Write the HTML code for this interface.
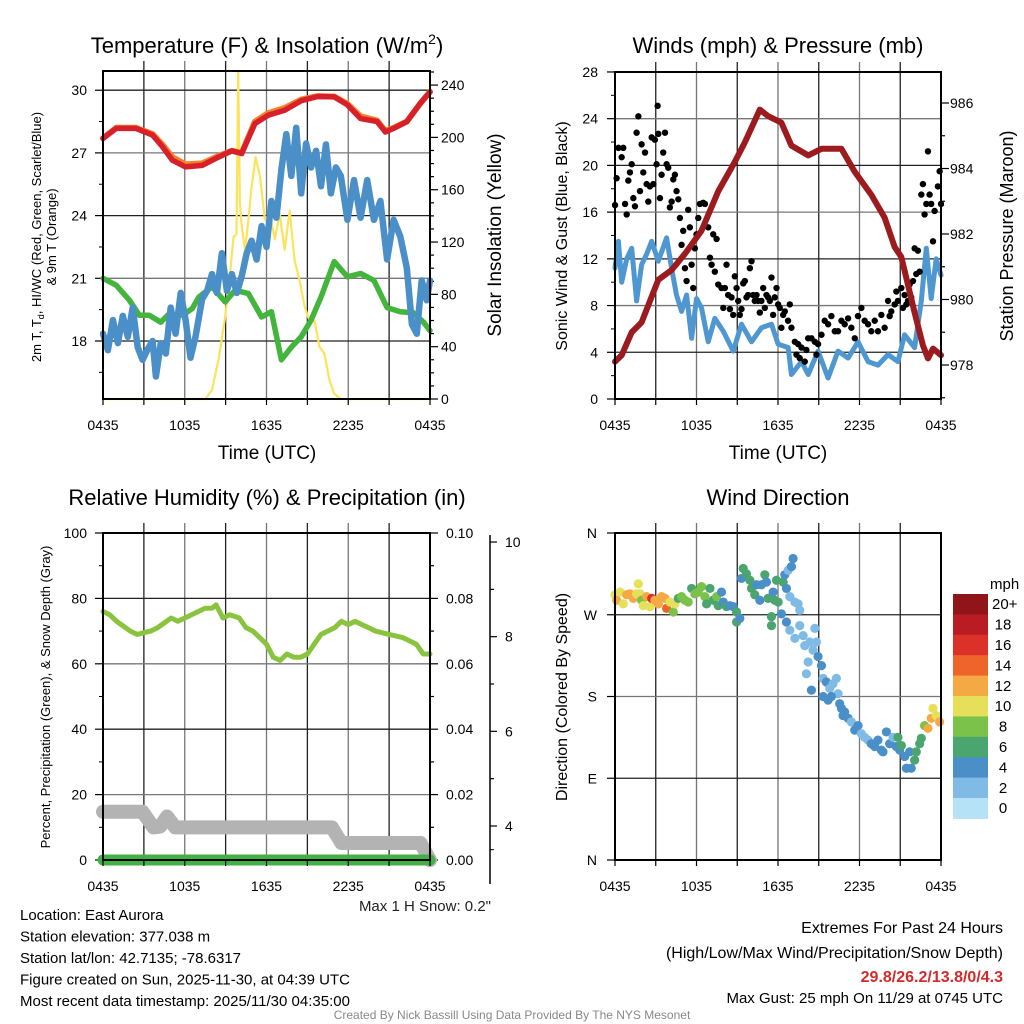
<!DOCTYPE html>
<html><head><meta charset="utf-8"><title>Station Meteogram</title>
<style>
html,body{margin:0;padding:0;background:#fff;}
svg{display:block;font-family:"Liberation Sans",Arial,sans-serif;}
</style></head>
<body>
<svg id="chart" width="1024" height="1024" viewBox="0 0 1024 1024" xmlns="http://www.w3.org/2000/svg">
<rect x="0" y="0" width="1024" height="1024" fill="#fff"/>
</svg>
<script>
// ---------- DATA ----------
const timeTickLabels = ["0435","1035","1635","2235","0435"];
const timeTickHours = [0,6,12,18,24];
const tempTicks = [18,21,24,27,30];
const solarTicks = [0,40,80,120,160,200,240];
const windTicks = [0,4,8,12,16,20,24,28];
const presTicks = [978,980,982,984,986];
const rhTicks = [0,20,40,60,80,100];
const precipTicks = ["0.00","0.02","0.04","0.06","0.08","0.10"];
const precipTickVals = [0,0.02,0.04,0.06,0.08,0.10];
const snowTicks = [4,6,8,10];
const dirLabels = ["N","E","S","W","N"];
const dirTicks = [0,90,180,270,360];

const redHours = [0,0.97,2.42,3.64,4.36,5.09,6.06,7.27,8.48,9.45,10.18,11.15,12.12,13.33,14.55,15.76,16.97,17.94,18.91,20.12,20.73,21.33,22.3,23.27,24];
const redTemp = [27.7,28.17,28.17,27.85,27.3,26.65,26.33,26.4,26.8,27.1,26.97,28.4,28.8,29.04,29.5,29.7,29.68,29.3,28.64,28.5,28.0,28.17,28.5,29.36,29.92];
const orangeTemp = [27.7,28.2,28.2,27.9,27.4,26.8,26.45,26.5,26.85,27.1,27.0,28.5,28.9,29.15,29.55,29.72,29.7,29.35,28.75,28.55,28.05,28.2,28.5,29.36,29.92];

const greenHours = [0,0.97,1.94,2.67,3.39,4.24,4.85,5.82,6.55,7.03,8.0,8.97,9.7,10.67,11.64,12.36,13.09,13.82,14.55,15.27,16.0,16.97,17.94,18.91,19.88,20.85,21.82,22.79,23.52,24];
const greenTemp = [21.0,20.67,19.95,19.23,19.23,18.9,19.3,19.23,19.55,20.1,20.6,19.87,20.43,20.27,19.15,19.4,17.1,17.7,18.2,19.0,20.1,21.8,21.07,21.23,20.9,19.6,19.4,19.35,18.9,18.5];

const blueHours = [0,0.36,0.73,1.09,1.45,1.82,2.18,2.55,2.91,3.27,3.64,3.88,4.24,4.61,4.97,5.33,5.7,6.06,6.42,6.79,7.27,7.64,8.0,8.36,8.73,9.09,9.45,9.82,10.18,10.55,10.91,11.27,11.64,12.0,12.36,12.73,13.09,13.45,13.82,14.18,14.55,14.91,15.27,15.64,16.0,16.36,16.73,17.09,17.45,17.94,18.42,18.91,19.39,19.88,20.36,20.85,21.33,21.82,22.3,22.67,23.03,23.39,23.76,24];
const blueTemp = [18.35,17.56,19,17.9,19.2,18.2,19.6,17.7,17.1,17.6,18.0,16.3,17.9,17.4,19.6,18.35,20.3,19.0,17.2,18.2,20,20.4,21.2,20.3,22.2,20.4,21.2,20.3,21.1,22.2,22.8,21.9,23.5,22.5,24.7,23.9,26.2,27.9,25.9,28.2,25.06,27.45,26.3,27.1,25.4,27.4,25.06,26.3,25.9,23.8,25.7,23.9,25.7,23.8,24.7,21.9,23.8,23,21.5,18.8,18.35,20.9,19.95,20.9];

const solarHours = [0,7.52,8.0,8.48,8.97,9.33,9.58,9.8,9.92,10.05,10.18,10.42,10.67,10.91,11.2,11.52,11.88,12.24,12.61,12.97,13.33,13.7,14.06,14.42,14.79,15.15,15.52,15.88,16.24,16.61,16.97,17.45,24];
const solarVals = [0,0,7,30,63,96,124,126,251,150,132,114,137,162,185,170,137,142,122,142,114,144,106,91,71,60,60,40,35,15,4,0,0];

const presHours = [0,0.49,1.23,1.96,3.19,4.17,5.15,6.37,7.6,8.82,9.56,10.66,11.27,12.25,12.99,14.22,15.2,16.18,16.67,17.65,18.87,19.85,20.59,21.08,22.06,22.67,23.04,23.41,24];
const presVals = [978.1,978.3,979.0,979.3,980.6,980.9,981.4,982.1,983.3,984.2,984.8,985.8,985.6,985.4,984.7,984.4,984.6,984.6,984.6,983.9,983.2,982.5,981.6,981.3,979.6,978.6,978.2,978.5,978.3];

const windHours = [0,0.25,0.49,0.86,1.23,1.59,1.96,2.33,2.7,3.19,3.8,4.17,4.53,4.9,5.27,5.64,6.0,6.37,6.86,7.35,7.97,8.7,9.31,10.05,10.78,11.52,12.01,12.75,12.99,13.73,14.22,14.95,15.69,16.42,17.16,17.89,18.63,19.36,20.1,20.83,21.32,22.06,22.55,22.92,23.28,23.65,24];
const windVals = [11.2,13.5,10,12,12.9,8.4,11.5,12.4,13.5,11.8,13.8,11.2,8.9,7.5,8.9,5.2,8.6,7.8,4.9,6.9,5.8,4.1,6.4,4.9,6.1,6.4,4.7,4.4,2.1,3.2,2.1,4.1,1.8,4.1,3.5,4.9,3.2,2.9,3.8,3.2,5.5,4.4,8.4,12.9,8.6,12,10.6];

const gustHours = [0,0.12,0.25,0.49,0.61,0.74,0.86,0.98,1.10,1.23,1.35,1.47,1.59,1.72,1.84,1.96,2.08,2.21,2.33,2.45,2.57,2.70,2.82,2.94,3.06,3.19,3.14,3.31,3.43,3.55,3.68,3.80,3.92,4.04,4.17,4.29,4.41,4.53,4.66,4.78,4.90,5.02,5.15,5.27,5.39,5.51,5.64,5.76,5.88,6.00,6.13,6.25,6.49,6.62,6.86,6.99,7.11,7.23,7.35,7.48,7.60,7.84,7.97,8.09,8.21,8.33,8.46,8.58,8.70,8.82,8.95,9.07,9.19,9.31,9.44,9.56,9.68,9.80,9.93,10.05,10.17,10.29,10.42,10.54,10.66,10.78,10.91,11.03,11.15,11.27,11.40,11.52,11.64,11.76,11.89,12.01,12.13,12.25,12.38,12.50,12.74,12.87,12.99,13.24,13.36,13.48,13.60,13.73,13.97,14.09,14.22,14.46,14.71,14.83,14.95,15.20,15.44,15.69,15.93,16.18,16.42,16.67,16.91,17.16,17.40,17.65,17.89,18.14,18.38,18.63,18.87,19.12,19.36,19.61,19.85,20.10,20.22,20.34,20.59,20.71,20.83,21.08,21.20,21.32,21.45,21.57,21.69,21.81,21.94,22.06,22.18,22.30,22.43,22.55,22.67,22.79,22.92,23.04,23.16,23.28,23.41,23.53,23.77,23.90,24.0];
const gustVals = [16.6,18.9,21.5,20.7,21.5,16.7,15.8,18.7,19.4,20.1,17.2,16.5,22.8,24.2,17.8,21.8,19.4,21.1,18.4,16.9,18.2,22.4,18.4,22.2,20.1,22.7,25.1,17.2,19.2,21.1,22.8,20.1,19.8,16.4,16.9,18.8,19.2,17.8,17.1,15.5,13.2,14.4,11.2,10.1,16.2,14.7,11.5,9.5,12.9,14.1,15.5,16.7,16.8,16.7,14.7,12.1,11.5,14.1,10.9,13.7,9.8,9.5,7.8,9.5,11.5,8.9,7.7,8.7,7.2,10.5,9.5,8.4,7.2,7.7,9.9,10.1,8.7,8.9,11.2,11.8,8.9,8.4,8.9,8.4,7.4,8.4,9.5,7.8,8.9,8.7,8.4,10.4,7.2,8.7,9.5,8.1,7.8,6.1,7.2,7.5,6.7,8.1,6.1,4.9,3.8,4.7,3.5,4.4,3.2,4.2,5.2,5.2,4.9,3.8,4.7,5.5,6.7,6.4,7.1,5.8,5.8,6.7,6.4,6.9,6.1,5.2,7.1,7.8,6.7,6.4,5.8,6.7,5.8,7.2,6.1,8.4,7.1,7.5,8.1,9.2,8.4,9.5,7.8,8.9,8.1,8.4,9.8,8.7,10.1,12.9,10.7,12.7,10.9,17.5,18.4,15.8,16.7,21.2,17.5,16.7,13.5,16.1,18.2,19.5,16.7];

const rhHours = [0,0.5,1,2,2.5,3,3.5,4,5,5.5,6,6.5,7,7.5,8,8.3,8.8,9.3,10,10.5,11,11.5,12,12.5,13,13.5,14,14.5,15,15.5,16,17,17.5,18,18.5,19,19.5,20,21,22,22.5,23,23.5,24];
const rhVals = [76,75,73,70,69,69.5,70,71,74,73,74,75,76,77,77,78,74,75,74,71,70,68,66,62,61,63,62,62,63,66,69,71,73,72,73,72,71,70,69,68,67,66,63,63];

const precipHours = [0,24];
const precipVals = [0,0];

const snowHours = [0,2.9,3.7,4.2,4.7,5.3,16.8,17.5,23.3,24];
const snowVals = [4.3,4.3,3.97,3.99,4.2,3.97,3.97,3.64,3.64,3.28];

const dirHours = [0,0.12,0.37,0.61,0.86,1.1,1.35,1.59,1.72,1.84,1.96,2.08,2.33,2.57,2.7,2.94,3.19,3.43,3.68,3.8,4.04,4.29,4.41,4.66,4.9,5.15,5.39,5.64,5.88,6.13,6.37,6.62,6.74,6.99,7.23,7.48,7.6,7.84,7.97,8.21,8.46,8.7,8.95,8.95,9.19,9.31,9.44,9.68,9.93,10.05,10.29,10.42,10.66,10.78,11.03,11.15,11.27,11.52,11.52,11.64,11.76,11.89,12.01,12.25,12.38,12.5,12.62,12.75,12.87,12.99,13.11,13.24,13.48,13.6,12.62,12.87,13.24,13.6,13.85,13.97,14.34,14.58,14.71,14.83,14.95,15.2,14.09,14.22,14.46,15.32,15.56,15.81,16.05,16.3,16.42,15.32,15.69,15.93,16.54,16.67,16.79,16.91,17.16,17.4,17.65,17.89,18.14,18.38,18.63,18.87,19.12,19.36,19.61,19.73,19.98,20.22,20.47,20.71,20.83,20.96,21.08,21.32,21.45,21.69,21.81,22.06,22.18,22.43,22.55,22.79,23.04,23.28,23.41,23.65,23.9];
const dirVals = [292,286,295,282,292,293,288,293,304,293,286,280,290,279,288,286,282,290,288,277,284,273,282,288,290,286,284,299,293,295,301,290,282,299,286,290,280,295,284,279,280,279,273,262,266,310,321,315,308,299,292,303,286,303,314,306,288,268,258,295,286,308,284,271,306,314,299,319,290,323,332,284,282,275,262,253,244,258,247,236,240,231,255,240,224,214,205,218,187,200,196,189,194,200,183,180,176,180,172,167,159,163,156,152,143,148,139,135,132,128,125,132,121,119,141,128,135,125,135,121,126,114,101,119,101,110,119,128,134,148,145,156,167,159,152,159];
const dirSpeed = [11,12,11,11,12,13,12,11,10,10,9,11,12,11,16,13,12,13,12,15,11,8,11,7,8,9,8,7,8,9,8,9,7,7,6,8,6,5,5,6,5,5,6,6,5,5,6,6,6,6,7,5,5,5,6,5,6,6,6,4,6,6,6,4,6,4,4,3,3,4,4,3,3,3,4,3,3,3,3,3,3,3,3,3,4,4,3,3,4,3,4,3,3,3,3,4,4,4,4,4,4,4,4,3,4,4,3,3,3,4,4,4,4,4,4,4,3,4,6,4,6,4,4,4,4,6,6,6,7,9,12,12,10,11,13,11];

const colorbarLabels = ["0","2","4","6","8","10","12","14","16","18","20+"];
const colorbarColors = ["#b5e2f7","#80bbe6","#4a8fc7","#4aa56e","#7bc24a","#e6df5a","#f5a945","#ef6428","#dc3128","#ba1c24","#8f1519"];

// ---------- HELPERS ----------
const svg = document.getElementById('chart');
const NS = 'http://www.w3.org/2000/svg';
function mk(tag, attrs, parent){
  const el = document.createElementNS(NS, tag);
  for (const k in attrs) el.setAttribute(k, attrs[k]);
  (parent||svg).appendChild(el);
  return el;
}
function txt(x,y,s,size,anchor,extra){
  const el = mk('text', Object.assign({x:x,y:y,'font-size':size,'text-anchor':anchor||'middle',fill:'#000'}, extra||{}));
  el.textContent = s;
  return el;
}
function poly(xs, ys, fx, fy, stroke, w){
  let d='';
  const n = Math.min(xs.length, ys.length);
  for (let i=0;i<n;i++) d += (i?'L':'M') + fx(xs[i]).toFixed(1) + ',' + fy(ys[i]).toFixed(1);
  return mk('path',{d:d,fill:'none',stroke:stroke,'stroke-width':w,'stroke-linejoin':'round','stroke-linecap':'round'});
}
function speedColor(s){ if (s===undefined || isNaN(s)) s = 6; let i=Math.floor(s/2); if(i>10)i=10; if(i<0)i=0; return colorbarColors[i]; }

function grid(x0,x1,y0,y1,hx,ys,nm){
  const g = mk('g',{});
  
  
  for (let h=3; h<24; h+=3){
    const x = hx(h);
    mk('line',{x1:x,x2:x,y1:y0-10,y2:y1,stroke:(h%6===0)?'#777':'#222','stroke-width':1.3},g);
  }
  ys.forEach((y,i)=>{ mk('line',{x1:x0,x2:x1,y1:y,y2:y,stroke:(i%2)?'#777':'#222','stroke-width':1.3},g); });
  return g;
}
function frame(x0,x1,y0,y1,nm){
  const r = mk('rect',{x:x0,y:y0,width:x1-x0,height:y1-y0,fill:'none',stroke:'#000','stroke-width':2});
  
  
  return r;
}
function timeAxis(hx, yBase, nm){
  const g = mk('g',{});
  
  
  for (let h=0; h<=24; h+=3) mk('line',{x1:hx(h),x2:hx(h),y1:yBase,y2:yBase+6,stroke:'#000','stroke-width':1.2},g);
  timeTickHours.forEach((h,i)=>{ const t = txt(hx(h), yBase+31, timeTickLabels[i], 14, 'middle'); g.appendChild(t); });
  return g;
}

// ============ PANEL 1 ============
const p1x = h => 103 + h*327/24;
const p1t = t => 341 - (t-18)*20.9;
const p1s = s => 399 - s*1.308;
grid(103,430,71,399,p1x,tempTicks.map(p1t),'temp-grid');
tempTicks.forEach(t=>{
  mk('line',{x1:95,x2:103,y1:p1t(t),y2:p1t(t),stroke:'#000','stroke-width':1.2});
  const l = txt(87,p1t(t)+5,String(t),14,'end');
  
  
});
for (let t=16.5;t<31;t+=3) mk('line',{x1:99,x2:103,y1:p1t(t),y2:p1t(t),stroke:'#000','stroke-width':1});
for (let s=0;s<=260;s+=10) if (p1s(s)>=71) mk('line',{x1:430,x2:s%40===0?438:434,y1:p1s(s),y2:p1s(s),stroke:'#000','stroke-width':1.2});
solarTicks.forEach(s=>{
  const l = txt(441,p1s(s)+5,String(s),14,'start');
  
  
});
{
  const cp = mk('clipPath',{id:'c1'}); mk('rect',{x:100,y:60,width:333,height:342},cp);
  const g = mk('g',{'clip-path':'url(#c1)'});
  
  
  let l;
  l = poly(solarHours, solarVals, p1x, p1s, '#fde35a', 2.2); g.appendChild(l);
   
  l = poly(greenHours, greenTemp, p1x, p1t, '#43b43c', 5.5); g.appendChild(l);
   
  l = poly(blueHours, blueTemp, p1x, p1t, '#4a8fc8', 6.5); g.appendChild(l);
   
  l = poly(redHours, orangeTemp, p1x, p1t, '#f7812b', 6); g.appendChild(l);
   
  l = poly(redHours, redTemp, p1x, p1t, '#d8202a', 5.5); g.appendChild(l);
   
}
frame(103,430,71,399,'temp-plot-frame');
timeAxis(p1x,399,'temp-x-axis');
{
  let t = txt(267,53,'',22,'middle');
  t.innerHTML = 'Temperature (F) &amp; Insolation (W/m<tspan dy="-9" font-size="14">2</tspan><tspan dy="9">)</tspan>';
   
  t = txt(267,459,'Time (UTC)',19,'middle');
   
  t = txt(0,0,'',13,'middle',{transform:'translate(41,237) rotate(-90)'});
  t.innerHTML = '2m T, T<tspan dy="3" font-size="9">d</tspan><tspan dy="-3">, HI/WC (Red, Green, Scarlet/Blue)</tspan>';
   
  t = txt(0,0,'& 9m T (Orange)',13,'middle',{transform:'translate(56,237) rotate(-90)'});
   
  t = txt(0,0,'Solar Insolation (Yellow)',19,'middle',{transform:'translate(501,235) rotate(-90)'});
   
}

// ============ PANEL 2 ============
const p2x = h => 615 + h*326/24;
const p2w = m => 399 - m*11.68;
const p2p = p => 365 - (p-978)*32.75;
grid(615,941,72,399,p2x,windTicks.slice(1,7).map(p2w),'wind-grid');
windTicks.forEach(m=>{
  mk('line',{x1:607,x2:615,y1:p2w(m),y2:p2w(m),stroke:'#000','stroke-width':1.2});
  const l = txt(598,p2w(m)+5,String(m),14,'end');
   
});
for (let m=2;m<28;m+=4) mk('line',{x1:611,x2:615,y1:p2w(m),y2:p2w(m),stroke:'#000','stroke-width':1});
for (let p=977;p<=987;p+=1){ const y=p2p(p); if(y>72&&y<399) mk('line',{x1:941,x2:p%2===0?949:945,y1:y,y2:y,stroke:'#000','stroke-width':1.2}); }
presTicks.forEach(p=>{
  const l = txt(950,p2p(p)+5,String(p),14,'start');
   
});
{
  const cp = mk('clipPath',{id:'c2'}); mk('rect',{x:612,y:70,width:332,height:332},cp);
  const g = mk('g',{'clip-path':'url(#c2)'});
  
  
  let l = poly(windHours, windVals, p2x, p2w, '#4f97d1', 5); g.appendChild(l);
   
  for (let i=0;i<gustHours.length;i++){
    const c = mk('circle',{cx:p2x(gustHours[i]),cy:p2w(gustVals[i]),r:3.2,fill:'#000'},g);
    
    
  }
  l = poly(presHours, presVals, p2x, p2p, '#9b1b1e', 6); g.appendChild(l);
   
}
frame(615,941,72,399,'wind-plot-frame');
timeAxis(p2x,399,'wind-x-axis');
{
  let t = txt(778,53,'Winds (mph) & Pressure (mb)',22,'middle');
   
  t = txt(778,459,'Time (UTC)',19,'middle');
   
  t = txt(0,0,'Sonic Wind & Gust (Blue, Black)',16,'middle',{transform:'translate(567,236) rotate(-90)'});
   
  t = txt(0,0,'Station Pressure (Maroon)',18,'middle',{transform:'translate(1013,236) rotate(-90)'});
   
}

// ============ PANEL 3 ============
const p3x = p1x;
const p3r = r => 860 - r*3.27;
const p3pr = p => 860 - p*3270;
const p3sn = s => 826 - (s-4)*47.33;
grid(103,430,533,860,p3x,[80,60,40,20].map(p3r),'rh-grid');
rhTicks.forEach(r=>{
  mk('line',{x1:95,x2:103,y1:p3r(r),y2:p3r(r),stroke:'#000','stroke-width':1.2});
  const l = txt(87,p3r(r)+5,String(r),14,'end');
   
});
for (let r=10;r<100;r+=20) mk('line',{x1:99,x2:103,y1:p3r(r),y2:p3r(r),stroke:'#000','stroke-width':1});
for (let p=0;p<=0.1001;p+=0.01) mk('line',{x1:430,x2:(Math.round(p*100)%2===0)?438:434,y1:p3pr(p),y2:p3pr(p),stroke:'#000','stroke-width':1.2});
precipTickVals.forEach((p,i)=>{
  const l = txt(446,p3pr(p)+5,precipTicks[i],14,'start');
   
});
{
  const ax = mk('line',{x1:490,x2:490,y1:535,y2:884,stroke:'#000','stroke-width':1.5});
   
  for (let s=4;s<=10;s++) mk('line',{x1:490,x2:s%2===0?497:494,y1:p3sn(s),y2:p3sn(s),stroke:'#000','stroke-width':1.2});
  mk('line',{x1:490,x2:494,y1:p3sn(3.5),y2:p3sn(3.5),stroke:'#000','stroke-width':1});
  snowTicks.forEach(s=>{
    const l = txt(505,p3sn(s)+5,String(s),14,'start');
     
  });
}
{
  const cp = mk('clipPath',{id:'c3'}); mk('rect',{x:90,y:530,width:350,height:345},cp);
  const g = mk('g',{'clip-path':'url(#c3)'});
  
  
  let l = poly(snowHours, snowVals, p3x, p3sn, '#b3b3b3', 14); g.appendChild(l);
   
  l = poly(precipHours, precipVals, p3x, p3pr, '#43b043', 11); g.appendChild(l);
   
  l = poly(rhHours, rhVals, p3x, p3r, '#8ac43f', 5); g.appendChild(l);
   
}
frame(103,430,533,860,'rh-plot-frame');
timeAxis(p3x,860,'rh-x-axis');
{
  let t = txt(267,505,'Relative Humidity (%) & Precipitation (in)',22,'middle');
   
  t = txt(0,0,'Percent, Precipitation (Green), & Snow Depth (Gray)',13,'middle',{transform:'translate(50,697) rotate(-90)'});
   
  t = txt(491,911,'Max 1 H Snow: 0.2"',15,'end',{fill:'#222'});
   
}

// ============ PANEL 4 ============
const p4x = p2x;
const p4d = d => 860 - d*0.9083;
grid(615,941,533,860,p4x,[270,180,90].map(p4d),'direction-grid');
dirTicks.forEach((d,i)=>{
  mk('line',{x1:607,x2:615,y1:p4d(d),y2:p4d(d),stroke:'#000','stroke-width':1.2});
  const l = txt(597,p4d(d)+5,dirLabels[i],14,'end');
   
});
{
  const g = mk('g',{});
  
  
  const n = Math.min(dirHours.length, dirVals.length);
  for (let i=0;i<n;i++){
    const c = mk('circle',{cx:p4x(dirHours[i]),cy:p4d(dirVals[i]),r:4.6,fill:speedColor(dirSpeed[i])},g);
    
    
  }
}
frame(615,941,533,860,'direction-plot-frame');
timeAxis(p4x,860,'direction-x-axis');
{
  let t = txt(778,505,'Wind Direction',22,'middle');
   
  t = txt(0,0,'Direction (Colored By Speed)',16,'middle',{transform:'translate(567,697) rotate(-90)'});
   
  const cb = mk('g',{});
  
  
  const top=594, bh=20.4;
  for (let i=0;i<11;i++){
    const idx = 10-i;
    const r = mk('rect',{x:953,y:top+i*bh,width:35,height:bh+0.5,fill:colorbarColors[idx]},cb);
     
    const l = txt(idx===10?992:1003, top+i*bh+bh/2+5, colorbarLabels[idx], 15, idx===10?'start':'middle');
     
  }
  t = txt(990,589,'mph',15,'start');
   
}

// ============ FOOTER TEXT ============
{
  const lines = ['Location: East Aurora','Station elevation: 377.038 m','Station lat/lon: 42.7135; -78.6317','Figure created on Sun, 2025-11-30, at 04:39 UTC','Most recent data timestamp: 2025/11/30 04:35:00'];
  lines.forEach((s,i)=>{
    const t = txt(20,920+i*21.5,s,15,'start');
     
  });
  let t = txt(1003,933,'Extremes For Past 24 Hours',16,'end');
   
  t = txt(1003,958,'(High/Low/Max Wind/Precipitation/Snow Depth)',16,'end');
   
  t = txt(1003,982,'29.8/26.2/13.8/0/4.3',16,'end',{fill:'#d42a2a','font-weight':'bold'});
   
  t = txt(1003,1003,'Max Gust: 25 mph On 11/29 at 0745 UTC',15,'end');
   
  t = txt(512,1019,'Created By Nick Bassill Using Data Provided By The NYS Mesonet',12,'middle',{fill:'#888'});
   
}
</script>
</body></html>
